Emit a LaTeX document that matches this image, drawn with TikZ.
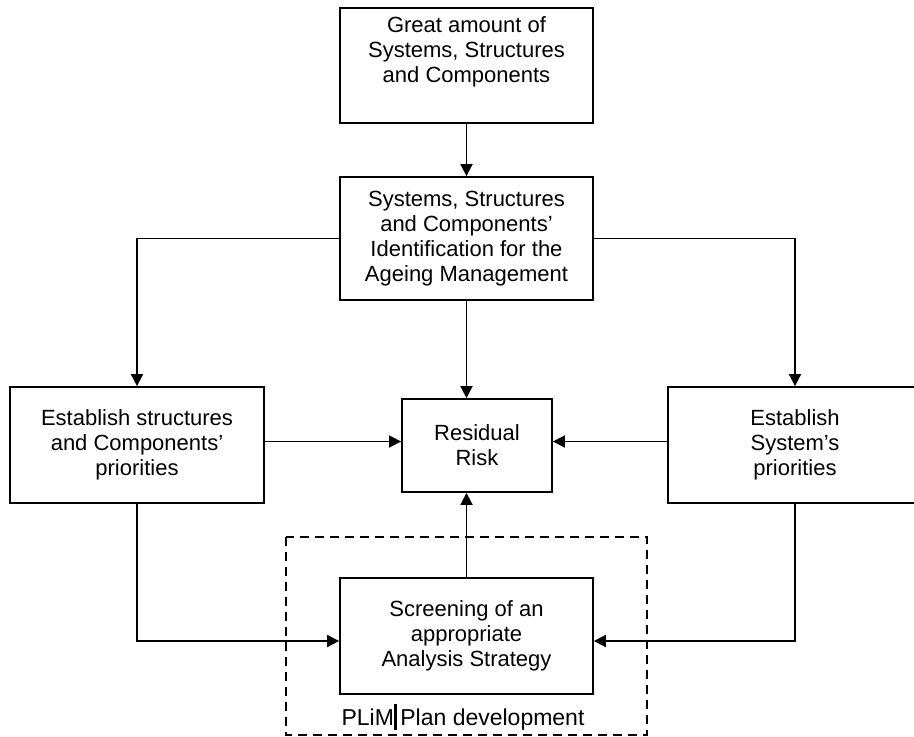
\documentclass[tikz,border=0pt]{standalone}
\usepackage{fontspec}
\setmainfont{Liberation Sans}
\usetikzlibrary{arrows.meta}

\begin{document}
\begin{tikzpicture}[x=1pt, y=-1pt, line width=1.8pt,
  box/.style = {draw, align=center, inner sep=0pt, font=\fontsize{22}{25}\selectfont},
  arr/.style = {-{Triangle[length=12pt,width=12pt]}}]
\useasboundingbox (0,0) rectangle (914,737);

\node[box, minimum width=253pt, minimum height=115pt] (great) at (466.5,65.5) {Great amount of\\Systems, Structures\\and Components\\[6pt]\mbox{}};
\node[box, minimum width=253pt, minimum height=123pt] (ssc) at (466.5,238.5) {Systems, Structures\\and Components'\\Identification for the\\Ageing Management};
\node[box, minimum width=254pt, minimum height=116pt] (lft) at (137,445) {Establish structures\\and Components'\\priorities};
\node[box, minimum width=254pt, minimum height=116pt] (rgt) at (795,445) {Establish\\System's\\priorities};
\node[box, minimum width=150pt, minimum height=93pt] (res) at (477,445.5) {Residual\\Risk};
\node[box, minimum width=253pt, minimum height=116pt] (scr) at (466.5,636) {Screening of an\\appropriate\\Analysis Strategy};

\coordinate (rw) at ([yshift=4pt]res.west);
\coordinate (re) at ([yshift=4pt]res.east);
\coordinate (sw) at ([yshift=-5pt]scr.west);
\coordinate (se) at ([yshift=-5pt]scr.east);

\draw[arr] (great) -- (ssc);
\draw[arr] (ssc.west) -| (lft.north);
\draw[arr] (ssc.east) -| (rgt.north);
\draw[arr] (ssc.south) -- (ssc.south |- res.north);
\draw[arr] (lft.east |- rw) -- (rw);
\draw[arr] (rgt.west |- re) -- (re);
\draw[arr] (scr.north) -- (scr.north |- res.south);
\draw[arr] (lft.south) |- (sw);
\draw[arr] (rgt.south) |- (se);

% PLiM frame
\draw[line width=2.8pt, dash pattern=on 9pt off 6pt] (286,537) rectangle (647,735);
\node[font=\fontsize{23}{25}\selectfont] (plim) at (463,717) {PLiM\rule[-4pt]{2.6pt}{26pt}\,Plan development};

\end{tikzpicture}
\end{document}
